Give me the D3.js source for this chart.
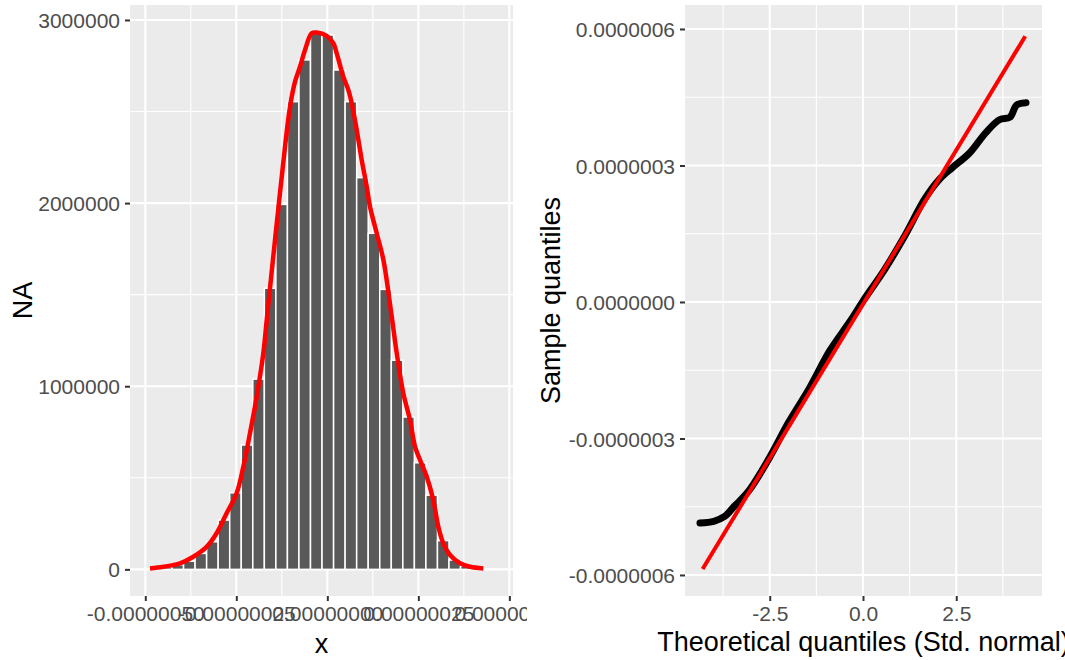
<!DOCTYPE html>
<html>
<head>
<meta charset="utf-8">
<script src="https://cdn.jsdelivr.net/npm/d3@7"></script>
<style>
  body { margin: 0; background: #ffffff; }
  svg { display: block; font-family: "Liberation Sans", Arial, sans-serif; }
</style>
</head>
<body>
<div id="chart"></div>
<script>
// ---- data ----
// histogram: 30 bins, counts in millions
var binStart = -4.9e-7;
var binWidth = 3.17e-8;
var binCounts = [0.005, 0.012, 0.025, 0.045, 0.087, 0.151, 0.269, 0.418, 0.679, 1.039,
                 1.535, 1.993, 2.554, 2.782, 2.927, 2.918, 2.727, 2.554, 2.139, 1.835,
                 1.529, 1.142, 0.832, 0.582, 0.405, 0.157, 0.051, 0.018, 0.008, 0.003];

// density curve (x in 1e-7, y in millions)
var densX = [-4.871, -4.505, -4.047, -3.681, -3.316, -3.041, -2.766, -2.492, -2.308, -2.124,
             -1.940, -1.758, -1.665, -1.437, -1.162, -1.025, -0.887, -0.750, -0.613, -0.429,
             -0.291, -0.016, 0.165, 0.258, 0.440, 0.577, 0.670, 0.808, 0.945, 1.082,
             1.173, 1.357, 1.541, 1.769, 1.907, 2.088, 2.272, 2.409, 2.547, 2.731,
             2.912, 3.049, 3.187, 3.371, 3.646, 3.920, 4.286];
var densY = [0.005, 0.014, 0.033, 0.069, 0.123, 0.197, 0.306, 0.415, 0.560, 0.743,
             0.943, 1.180, 1.362, 1.798, 2.308, 2.526, 2.663, 2.745, 2.836, 2.927,
             2.931, 2.913, 2.873, 2.818, 2.690, 2.618, 2.545, 2.399, 2.235, 2.090,
             1.980, 1.835, 1.689, 1.380, 1.180, 0.961, 0.815, 0.670, 0.597, 0.506,
             0.378, 0.233, 0.142, 0.078, 0.033, 0.014, 0.005];

var histXTicks = [-5e-7, -2.5e-7, 0, 2.5e-7, 5e-7];
var histXLabels = ["-0.00000050", "-0.00000025", "0.00000000", "0.00000025", "0.00000050"];
var histYTicks = [0, 1000000, 2000000, 3000000];

// QQ plot: theoretical quantile, sample quantile (in 1e-7)
var qqTheo = [-4.37, -4.00, -3.72, -3.45, -3.08, -2.54, -1.99, -1.44, -0.89, -0.35,
              0, 0.57, 1.11, 1.66, 2.03, 2.39, 2.85, 3.30, 3.67, 3.94, 4.12, 4.37];
var qqSamp = [-4.86, -4.82, -4.72, -4.49, -4.17, -3.47, -2.64, -1.90, -1.07, -0.43,
              0.02, 0.70, 1.44, 2.27, 2.68, 2.95, 3.27, 3.73, 4.01, 4.06, 4.33, 4.38];
var qqLineTheo = [-4.30, 4.35];
var qqLineSamp = [-5.87, 5.84];

var qqXTicks = [-2.5, 0, 2.5];
var qqYTicks = [-6e-7, -3e-7, 0, 3e-7, 6e-7];
var qqYLabels = ["-0.0000006", "-0.0000003", "0.0000000", "0.0000003", "0.0000006"];

// ---- layout ----
var svgWidth = 1065;
var svgHeight = 660;
var panelBg = "#EBEBEB";
var tickColor = "#333333";
var labelColor = "#4D4D4D";
var tickFont = 21;
var titleFont = 27;

var svg = d3.select("#chart").append("svg")
    .attr("width", svgWidth)
    .attr("height", svgHeight);

svg.append("defs").append("clipPath").attr("id", "leftClip")
  .append("rect").attr("x", 0).attr("y", 0).attr("width", 527).attr("height", svgHeight);

// helpers for ggplot-like grids
function drawGrid(g, x, y, x0, x1, y0, y1, xMajor, xMinor, yMajor, yMinor) {
    g.append("rect").attr("x", x0).attr("y", y0)
        .attr("width", x1 - x0).attr("height", y1 - y0).attr("fill", panelBg);
    xMinor.forEach(function(v) {
        g.append("line").attr("x1", x(v)).attr("x2", x(v)).attr("y1", y0).attr("y2", y1)
            .attr("stroke", "#fff").attr("stroke-width", 1.1);
    });
    yMinor.forEach(function(v) {
        g.append("line").attr("x1", x0).attr("x2", x1).attr("y1", y(v)).attr("y2", y(v))
            .attr("stroke", "#fff").attr("stroke-width", 1.1);
    });
    xMajor.forEach(function(v) {
        g.append("line").attr("x1", x(v)).attr("x2", x(v)).attr("y1", y0).attr("y2", y1)
            .attr("stroke", "#fff").attr("stroke-width", 2.1);
    });
    yMajor.forEach(function(v) {
        g.append("line").attr("x1", x0).attr("x2", x1).attr("y1", y(v)).attr("y2", y(v))
            .attr("stroke", "#fff").attr("stroke-width", 2.1);
    });
}

function styleAxis(axisG) {
    axisG.select(".domain").remove();
    axisG.selectAll(".tick line").attr("stroke", tickColor).attr("stroke-width", 2);
    axisG.selectAll(".tick text")
        .attr("fill", labelColor)
        .style("font-size", tickFont + "px")
        .style("font-family", "'Liberation Sans', Arial, sans-serif");
}

// ================= LEFT: histogram =================
var left = svg.append("g").attr("clip-path", "url(#leftClip)");
var L = { x0: 130, x1: 513, y0: 5, y1: 596 };

var hx = d3.scaleLinear().domain([-5.42e-7, 5.10e-7]).range([L.x0, L.x1]);
var hy = d3.scaleLinear().domain([-0.1455, 3.0818]).range([L.y1, L.y0]);

drawGrid(left, hx, function(v) { return hy(v / 1e6); }, L.x0, L.x1, L.y0, L.y1,
    histXTicks, [-3.75e-7, -1.25e-7, 1.25e-7, 3.75e-7],
    histYTicks, [500000, 1500000, 2500000]);

var bins = binCounts.map(function(c, i) {
    return { x0: binStart + i * binWidth, x1: binStart + (i + 1) * binWidth, count: c };
});

left.append("g").selectAll("rect")
    .data(bins)
    .enter()
    .append("rect")
    .attr("x", d => hx(d.x0))
    .attr("width", d => hx(d.x1) - hx(d.x0))
    .attr("y", d => hy(d.count))
    .attr("height", d => hy(0) - hy(d.count))
    .attr("fill", "#595959")
    .attr("stroke", "#ffffff")
    .attr("stroke-width", 1.5);

var densLine = d3.line()
    .x((d, i) => hx(densX[i] * 1e-7))
    .y((d, i) => hy(densY[i]))
    .curve(d3.curveCatmullRom);

left.append("path")
    .attr("d", densLine(densX))
    .attr("fill", "none")
    .attr("stroke", "#FF0000")
    .attr("stroke-width", 4.5)
    .attr("stroke-linejoin", "round");

var hxAxis = left.append("g")
    .attr("transform", `translate(0, ${L.y1})`)
    .call(d3.axisBottom(hx).tickValues(histXTicks)
        .tickFormat((d, i) => histXLabels[i]).tickSize(5).tickPadding(5));
styleAxis(hxAxis);

var hyScaleCounts = d3.scaleLinear().domain([-145500, 3081800]).range([L.y1, L.y0]);
var hyAxis = left.append("g")
    .attr("transform", `translate(${L.x0}, 0)`)
    .call(d3.axisLeft(hyScaleCounts).tickValues(histYTicks)
        .tickFormat(d3.format("d")).tickSize(5).tickPadding(5));
styleAxis(hyAxis);
hyAxis.selectAll(".tick text").attr("dy", "0.36em");

left.append("text")
    .attr("x", (L.x0 + L.x1) / 2)
    .attr("y", 653)
    .attr("text-anchor", "middle")
    .style("font-size", titleFont + "px")
    .attr("fill", "#000")
    .text("x");

left.append("text")
    .attr("transform", `translate(32, ${(L.y0 + L.y1) / 2}) rotate(-90)`)
    .attr("text-anchor", "middle")
    .style("font-size", titleFont + "px")
    .attr("fill", "#000")
    .text("NA");

// ================= RIGHT: QQ plot =================
var right = svg.append("g");
var R = { x0: 685, x1: 1042, y0: 5, y1: 596 };

var qx = d3.scaleLinear().domain([-4.772, 4.799]).range([R.x0, R.x1]);
var qy = d3.scaleLinear().domain([-6.462e-7, 6.527e-7]).range([R.y1, R.y0]);

drawGrid(right, qx, qy, R.x0, R.x1, R.y0, R.y1,
    qqXTicks, [-3.75, -1.25, 1.25, 3.75],
    qqYTicks, [-4.5e-7, -1.5e-7, 1.5e-7, 4.5e-7]);

var qqPath = d3.line()
    .x((d, i) => qx(qqTheo[i]))
    .y((d, i) => qy(qqSamp[i] * 1e-7))
    .curve(d3.curveCatmullRom);

right.append("path")
    .attr("d", qqPath(qqTheo))
    .attr("fill", "none")
    .attr("stroke", "#000")
    .attr("stroke-width", 7)
    .attr("stroke-linecap", "round")
    .attr("stroke-linejoin", "round");

right.append("line")
    .attr("x1", qx(qqLineTheo[0]))
    .attr("y1", qy(qqLineSamp[0] * 1e-7))
    .attr("x2", qx(qqLineTheo[1]))
    .attr("y2", qy(qqLineSamp[1] * 1e-7))
    .attr("stroke", "#FF0000")
    .attr("stroke-width", 4);

var qxAxis = right.append("g")
    .attr("transform", `translate(0, ${R.y1})`)
    .call(d3.axisBottom(qx).tickValues(qqXTicks)
        .tickFormat(d3.format(".1f")).tickSize(5).tickPadding(5));
styleAxis(qxAxis);
qxAxis.selectAll(".tick text").text(d => d3.format(".1f")(d).replace("−", "-"));

var qyAxis = right.append("g")
    .attr("transform", `translate(${R.x0}, 0)`)
    .call(d3.axisLeft(qy).tickValues(qqYTicks)
        .tickFormat((d, i) => qqYLabels[i]).tickSize(5).tickPadding(5));
styleAxis(qyAxis);
qyAxis.selectAll(".tick text").attr("dy", "0.36em");

right.append("text")
    .attr("x", (R.x0 + R.x1) / 2)
    .attr("y", 651)
    .attr("text-anchor", "middle")
    .style("font-size", titleFont + "px")
    .attr("fill", "#000")
    .text("Theoretical quantiles (Std. normal)");

right.append("text")
    .attr("transform", `translate(560, ${(R.y0 + R.y1) / 2}) rotate(-90)`)
    .attr("text-anchor", "middle")
    .style("font-size", titleFont + "px")
    .attr("fill", "#000")
    .text("Sample quantiles");
</script>
</body>
</html>
